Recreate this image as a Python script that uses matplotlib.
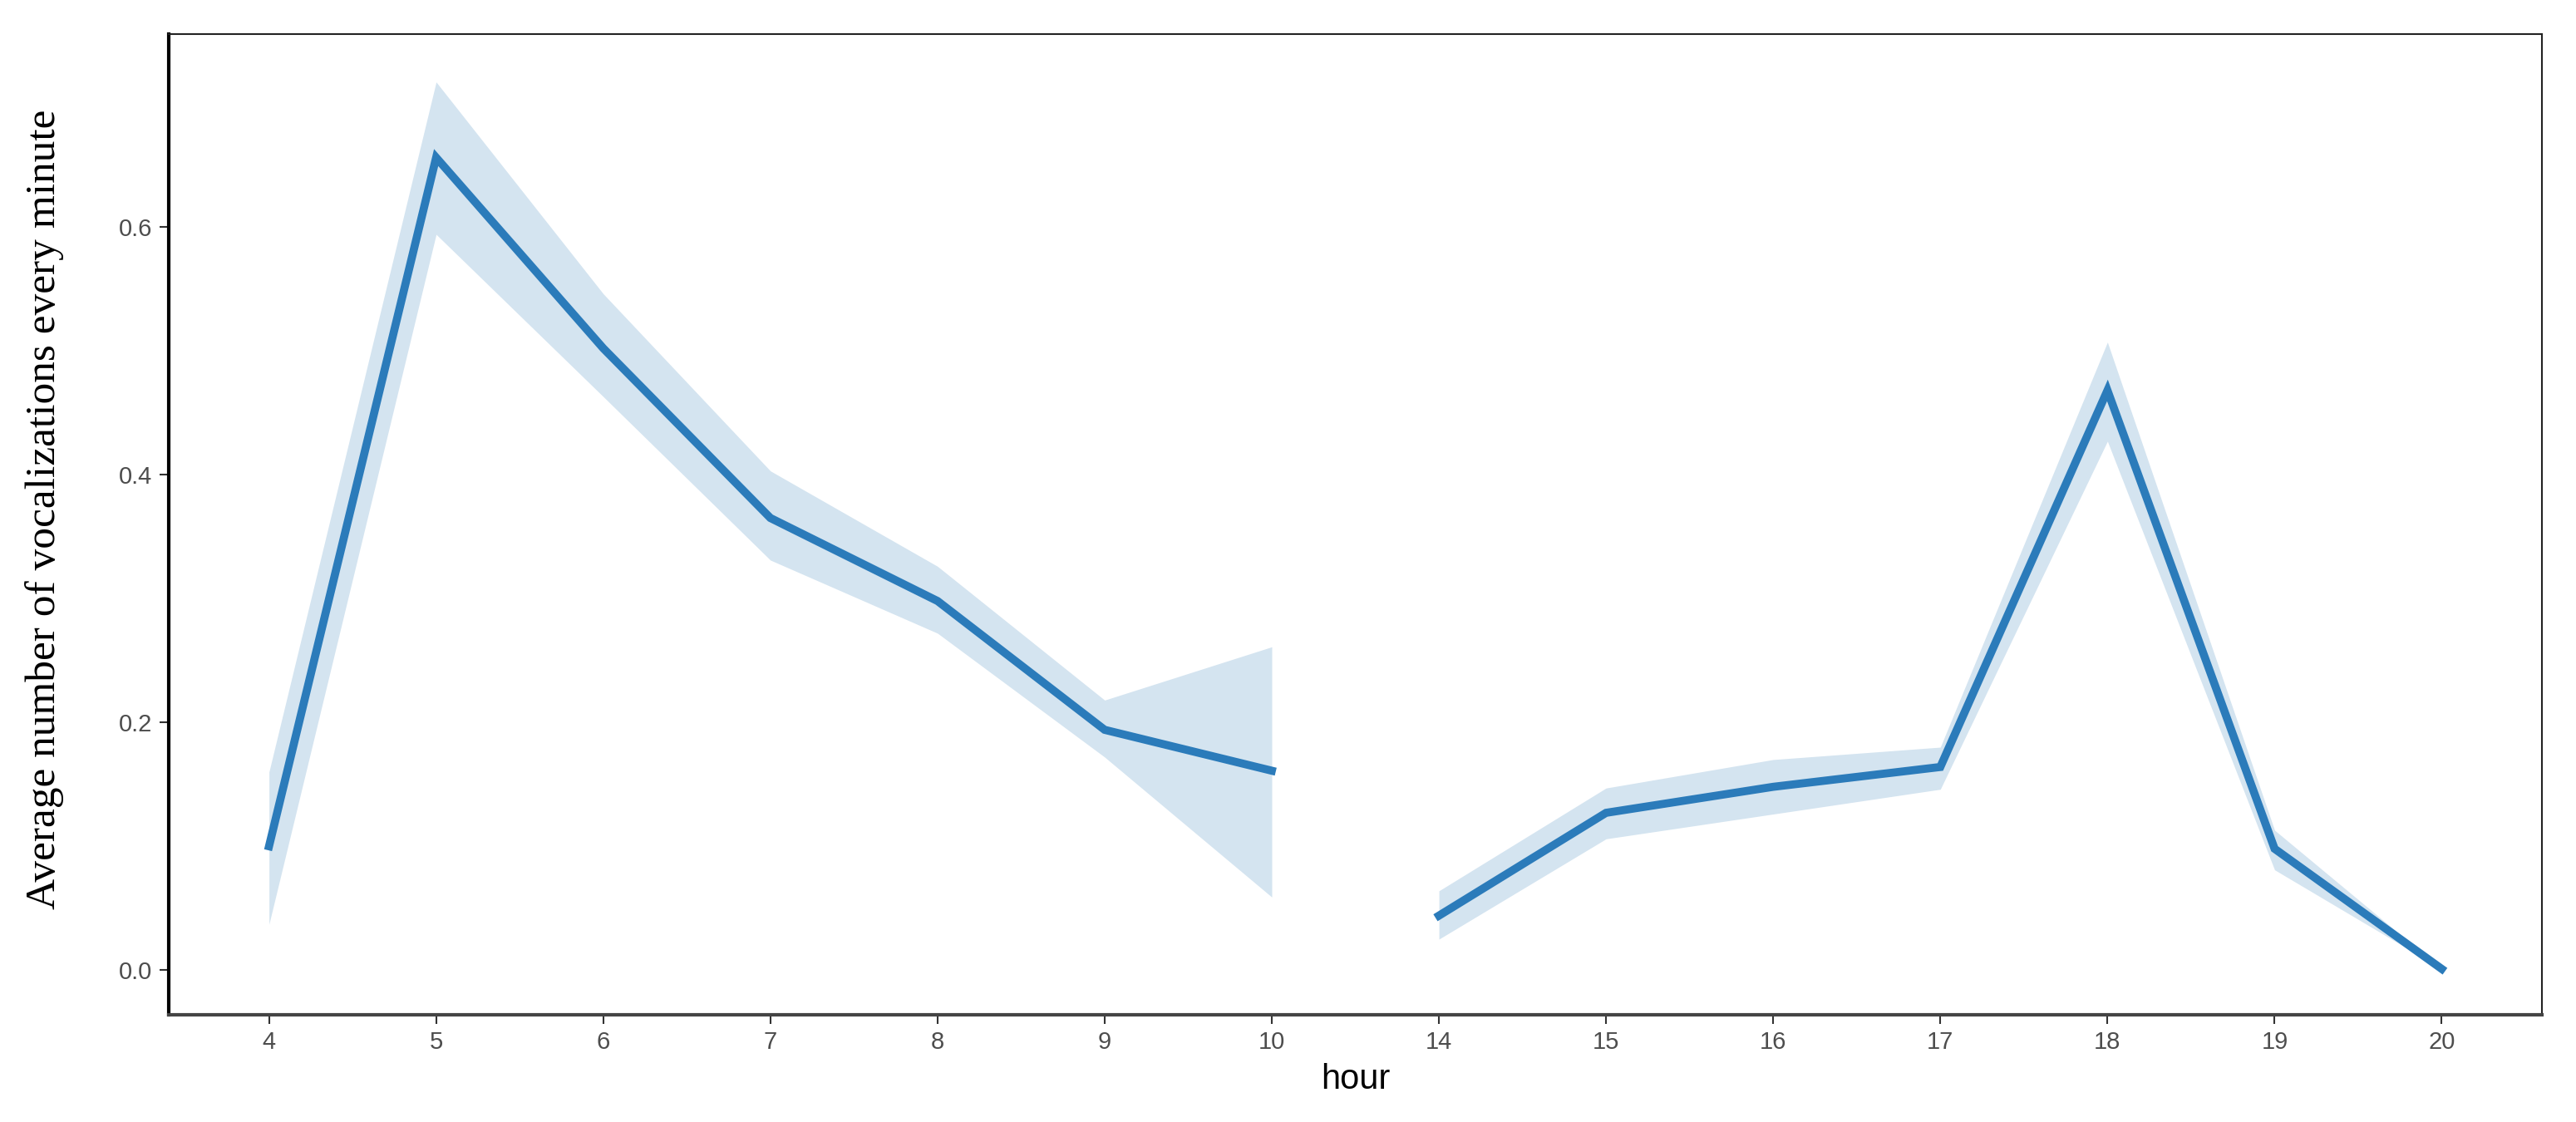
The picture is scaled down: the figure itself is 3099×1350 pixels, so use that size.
import numpy as np
import matplotlib.pyplot as plt

# hour categories (discrete axis, gap between 10 and 14)
hours = ['4', '5', '6', '7', '8', '9', '10', '14', '15', '16', '17', '18', '19', '20']
mean_calls = [0.100, 0.656, 0.502, 0.365, 0.298, 0.194, 0.161,
              0.044, 0.127, 0.148, 0.164, 0.468, 0.098, 0.001]
lower_ci = [0.037, 0.594, 0.463, 0.331, 0.272, 0.172, 0.059,
            0.025, 0.106, 0.126, 0.146, 0.427, 0.081, 0.001]
upper_ci = [0.160, 0.717, 0.546, 0.403, 0.326, 0.218, 0.261,
            0.064, 0.147, 0.170, 0.180, 0.507, 0.113, 0.001]
# morning block and evening block are drawn separately
segments = [(0, 7), (7, 14)]

line_col = '#2B7BBA'
band_col = '#D4E4F0'

fig = plt.figure(figsize=(30.99, 13.5), dpi=100)
ax = fig.add_axes([0.0655, 0.0956, 0.9213, 0.8744])

x = np.arange(len(hours))
m = np.array(mean_calls)
lo = np.array(lower_ci)
hi = np.array(upper_ci)
for a, b in segments:
    ax.fill_between(x[a:b], lo[a:b], hi[a:b], color=band_col, linewidth=0, zorder=1)
    ax.plot(x[a:b], m[a:b], color=line_col, linewidth=7, solid_joinstyle='miter', zorder=2)

ax.set_xlim(-0.6, len(hours) - 0.4)
ax.set_ylim(-0.036, 0.756)
ax.set_xticks(x)
ax.set_xticklabels(hours)
ax.set_yticks([0.0, 0.2, 0.4, 0.6])
ax.set_yticklabels(['0.0', '0.2', '0.4', '0.6'])

ax.tick_params(axis='both', direction='out', length=8, width=1.5, color='#333333',
               labelcolor='#4D4D4D', labelsize=21, pad=6)
for t in ax.get_xticklabels() + ax.get_yticklabels():
    t.set_family('Liberation Sans')

for s in ['top', 'right']:
    ax.spines[s].set_linewidth(1.5)
    ax.spines[s].set_color('#222222')
ax.spines['left'].set_linewidth(3)
ax.spines['left'].set_color('black')
ax.spines['bottom'].set_linewidth(3)
ax.spines['bottom'].set_color('#444444')

ax.set_xlabel('hour', family='Liberation Sans', fontsize=30, color='black', labelpad=8)
ax.set_ylabel('Average number of vocalizations every minute', family='Liberation Serif',
              fontsize=37, color='black')
ax.yaxis.set_label_coords(-0.044, 0.515)

fig.savefig('out.png', dpi=100)
